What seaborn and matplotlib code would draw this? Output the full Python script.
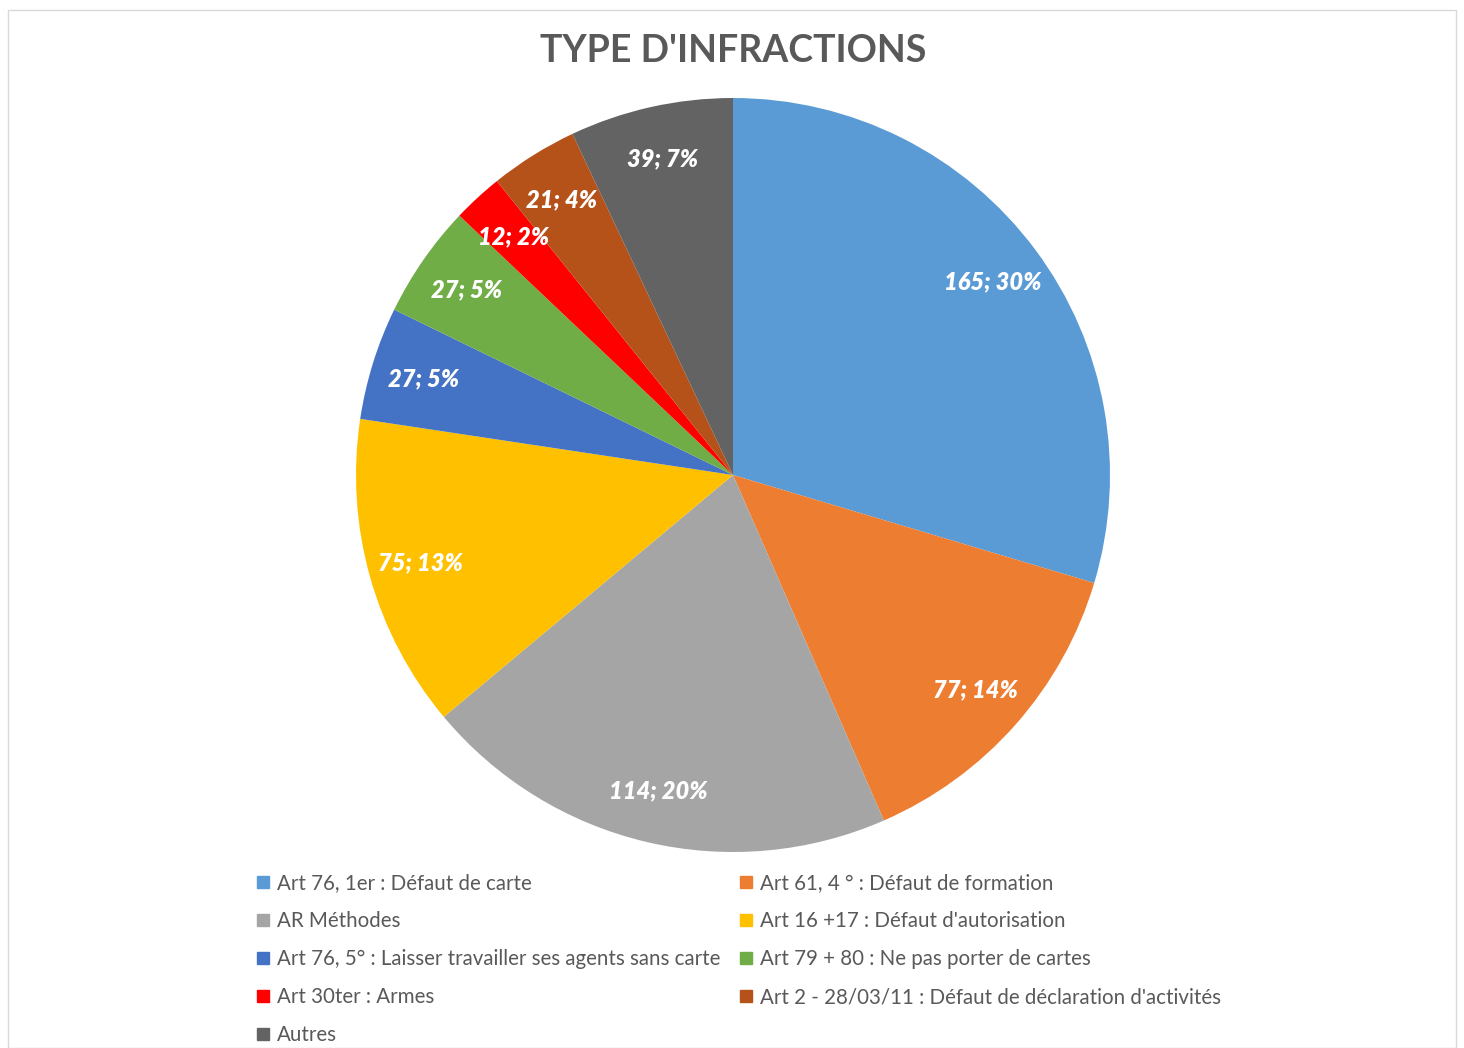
import matplotlib
matplotlib.use("Agg")
import matplotlib.pyplot as plt
from matplotlib.lines import Line2D
from matplotlib.patches import Rectangle
import seaborn as sns

categories = [
    "Art 76, 1er : Défaut de carte",
    "Art 61, 4 ° : Défaut de formation",
    "AR Méthodes",
    "Art 16 +17 : Défaut d'autorisation",
    "Art 76, 5° : Laisser travailler ses agents sans carte",
    "Art 79 + 80 : Ne pas porter de cartes",
    "Art 30ter : Armes",
    "Art 2 - 28/03/11 : Défaut de déclaration d'activités",
    "Autres",
]
values = [165, 77, 114, 75, 27, 27, 12, 21, 39]
colors = ["#5B9BD5", "#ED7D31", "#A5A5A5", "#FFC000", "#4472C4",
          "#70AD47", "#FF0000", "#B4521A", "#636363"]
title = "TYPE D'INFRACTIONS"

sns.set_theme(style="white")
plt.rcParams['font.family'] = ['Lato', 'DejaVu Sans']

W, H = 1464, 1048
fig = plt.figure(figsize=(W / 100, H / 100), dpi=100)
fig.patch.set_facecolor("white")

# chart border
fig.add_artist(Rectangle((8 / W, 0), (W - 16) / W, (H - 10) / H, transform=fig.transFigure,
                         fill=False, edgecolor="#D9D9D9", linewidth=1))

cx, cy, r = 733, H - 475, 377
ax = fig.add_axes([(cx - r) / W, (cy - r) / H, 2 * r / W, 2 * r / H])
palette = sns.color_palette(colors)
total = sum(values)
labels = [f"{v}; {round(100 * v / total)}%" for v in values]

wedges, texts = ax.pie(values, colors=palette, startangle=90, counterclock=False,
                       labels=labels, labeldistance=0.86,
                       wedgeprops=dict(linewidth=0))
for t in texts:
    t.set_horizontalalignment("center")
    t.set_verticalalignment("center")
    t.set_color("white")
    t.set_fontsize(17)
    t.set_fontweight("heavy")
    t.set_fontstyle("italic")
ax.set_xlim(-1, 1)
ax.set_ylim(-1, 1)
ax.set_aspect("equal")
ax.axis("off")

fig.text(cx / W, 1 - 51 / H, title, ha="center", va="center", fontsize=27,
         fontweight="bold", color="#595959")

handles = [Line2D([0], [0], marker="s", linestyle="none", markersize=8,
                  markerfacecolor=c, markeredgecolor=c) for c in palette]
order = [0, 2, 4, 6, 8, 1, 3, 5, 7]
leg = fig.legend([handles[i] for i in order], [categories[i] for i in order],
                 ncol=2, loc="upper left", bbox_to_anchor=(257 / W, 1 - 873 / H),
                 frameon=False, fontsize=14.8, handlelength=0.55, handletextpad=0.4,
                 columnspacing=1.0, labelspacing=0.88, borderaxespad=0, borderpad=0)
for t in leg.get_texts():
    t.set_color("#595959")

fig.savefig("out.png", dpi=100, facecolor="white")
